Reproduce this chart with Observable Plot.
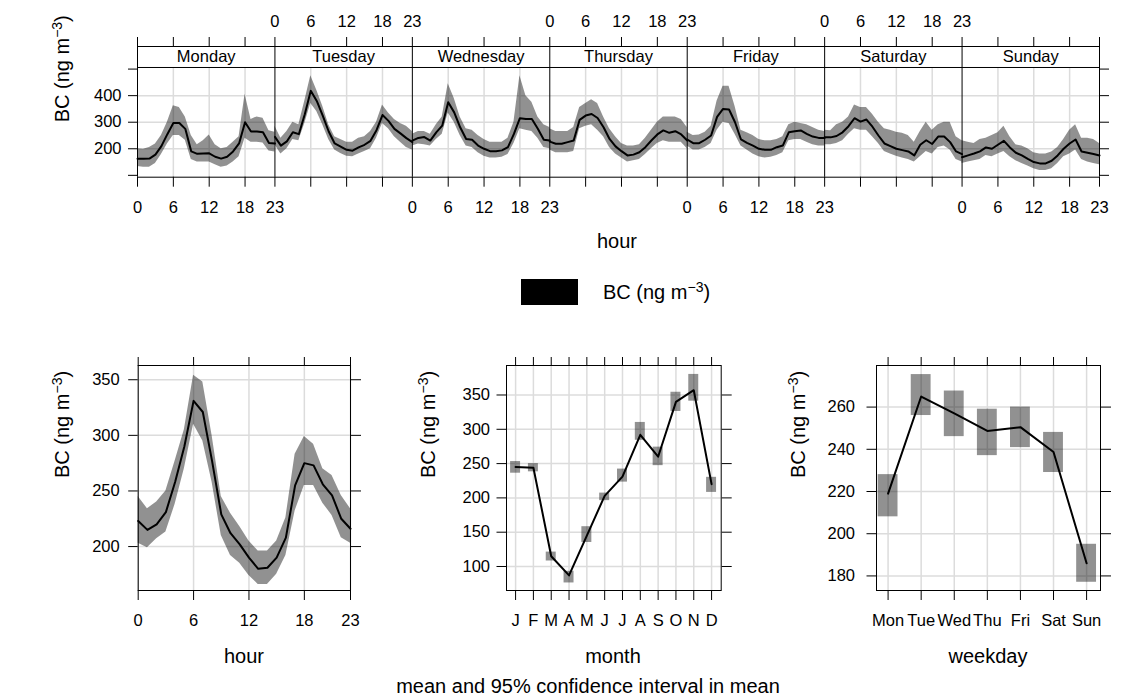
<!DOCTYPE html>
<html>
<head>
<meta charset="utf-8">
<script src="https://cdn.jsdelivr.net/npm/d3@7"></script>
<script src="https://cdn.jsdelivr.net/npm/@observablehq/plot@0.6"></script>
<style>
  body { margin: 0; background: #fff; font-family: "Liberation Sans", Arial, Helvetica, sans-serif; color: #000; }
  #chart { position: relative; width: 1134px; height: 698px; overflow: hidden; }
  .lbl { position: absolute; transform: translate(-50%, -50%); white-space: nowrap; font-size: 20px; }
  #legend { position: absolute; left: 521px; top: 279px; display: flex; align-items: center; font-size: 20px; }
  #legend .key { width: 57px; height: 26px; background: #000; margin-right: 25px; }
  #legend sup { font-size: 14px; vertical-align: 7px; line-height: 0; }
</style>
</head>
<body>
<div id="chart">
  <div class="lbl" style="left:617px; top:241px">hour</div>
  <div id="legend"><div class="key"></div><span>BC (ng m<sup>−3</sup>)</span></div>
  <div class="lbl" style="left:244px; top:656px">hour</div>
  <div class="lbl" style="left:613px; top:656px">month</div>
  <div class="lbl" style="left:988px; top:656px">weekday</div>
  <div class="lbl" style="left:588px; top:686px">mean and 95% confidence interval in mean</div>
</div>
<script>
// ---- categories and tick labels ----
const dayNames = ["Monday", "Tuesday", "Wednesday", "Thursday", "Friday", "Saturday", "Sunday"];
const hourTickValues = [0, 6, 12, 18, 23];
const monthLabels = ["J", "F", "M", "A", "M", "J", "J", "A", "S", "O", "N", "D"];
const weekdayLabels = ["Mon", "Tue", "Wed", "Thu", "Fri", "Sat", "Sun"];
const yTitle = "BC (ng m-3)";

// ---- hourly BC by day of week: mean, lower and upper 95% CI ----
const mondayMean  = [162,162,163,178,210,255,297,297,275,190,181,182,183,170,163,170,190,220,300,265,265,262,222,220];
const mondayLower = [133,130,130,145,178,218,250,250,232,160,150,150,150,140,130,135,150,170,240,225,225,222,192,188];
const mondayUpper = [200,198,205,218,250,300,362,355,320,250,215,230,252,215,200,205,225,245,405,310,320,315,268,262];

const tuesdayMean  = [245,212,228,262,255,330,418,380,325,265,220,208,196,193,205,215,230,270,327,305,275,258,240,225];
const tuesdayLower = [215,180,200,235,230,295,370,340,290,235,195,182,172,170,180,190,200,240,295,275,245,225,205,195];
const tuesdayUpper = [285,240,265,300,290,380,475,420,360,290,245,235,225,225,240,245,265,300,365,335,310,295,285,265];

const wednesdayMean  = [231,241,244,231,262,287,375,337,281,237,234,212,200,191,191,194,206,256,315,312,312,275,234,231];
const wednesdayLower = [210,218,215,210,235,255,335,300,250,210,205,185,172,165,165,168,178,220,275,270,265,240,205,200];
const wednesdayUpper = [255,265,265,255,290,320,445,390,320,275,270,250,235,225,225,225,240,300,475,400,375,320,290,280];

const thursdayMean  = [227,219,219,225,231,309,325,331,316,281,237,209,191,175,178,187,206,231,254,269,260,266,254,231];
const thursdayLower = [195,185,185,185,190,275,285,290,270,245,205,180,165,150,155,160,178,200,220,230,225,225,225,200];
const thursdayUpper = [275,265,265,265,280,355,370,385,370,320,275,245,220,210,210,215,240,270,300,320,320,320,310,280];

const fridayMean  = [235,221,221,234,250,320,350,348,300,235,222,212,200,196,196,206,212,262,266,269,256,246,241,241];
const fridayLower = [210,195,195,205,220,270,300,295,255,210,195,180,170,165,168,175,185,230,235,235,225,215,210,210];
const fridayUpper = [262,250,252,262,285,380,435,435,360,270,260,250,235,230,230,235,245,290,300,295,290,280,270,265];

const saturdayMean  = [243,243,248,262,285,315,302,310,283,250,220,210,200,195,190,175,215,232,218,246,246,225,190,180];
const saturdayLower = [215,215,220,230,255,275,270,270,245,220,190,180,172,165,160,150,170,190,180,205,210,195,160,150];
const saturdayUpper = [270,268,290,300,320,365,355,355,330,300,275,270,262,258,250,225,265,300,270,290,300,300,245,230];

const sundayMean  = [168,175,182,190,205,200,215,230,205,185,175,162,150,145,145,155,175,200,220,235,190,185,180,175];
const sundayLower = [145,150,155,160,175,170,180,190,170,155,145,135,125,118,118,125,145,170,180,195,160,150,145,140];
const sundayUpper = [230,225,220,235,240,250,260,285,245,215,210,200,185,180,180,188,205,235,270,290,240,240,235,220];

// ---- diurnal profile (all days) ----
const hourMean  = [223,215,220,231,258,290,331,321,277,229,212,202,190,180,181,190,208,255,275,273,256,246,225,216];
const hourLower = [203,199,207,213,238,270,310,295,258,210,192,185,174,166,166,175,192,232,255,255,239,228,208,203];
const hourUpper = [245,234,240,250,277,305,354,348,300,245,230,218,205,196,196,205,226,283,299,292,270,264,246,234];

// ---- monthly means ----
const monthMean  = [245,244,115,87,145,203,231,292,260,340,357,220];
const monthLower = [236,238,108,76,135,196,223,284,247,326,341,208];
const monthUpper = [253,250,121,93,158,207,242,310,274,354,380,230];

// ---- weekday means ----
const weekdayMean  = [219,265,257,248.7,250.5,238.7,186];
const weekdayLower = [208,256,246,237,240.8,229,177];
const weekdayUpper = [228,275.4,267.6,259,260,248,195];

// ---- shared styling ----
const FONT = "'Liberation Sans', Arial, Helvetica, sans-serif";
const TICK_FONT = 16.5;
const GRID = "#dcdcdc";
const BAND = {fill: "black", fillOpacity: 0.43};
const baseStyle = {fontFamily: FONT, fontSize: "16px", color: "black", background: "none", overflow: "visible"};
const chart = document.getElementById("chart");

function place(svg, left, top) {
  svg.style.position = "absolute";
  svg.style.left = left + "px";
  svg.style.top = top + "px";
  // render the unit exponent as a raised superscript
  svg.querySelectorAll("text").forEach(t => {
    if (t.textContent !== yTitle) return;
    const NS = "http://www.w3.org/2000/svg";
    t.textContent = "";
    const a = document.createElementNS(NS, "tspan"); a.textContent = "BC (ng m";
    const b = document.createElementNS(NS, "tspan"); b.textContent = "−3";
    b.setAttribute("dy", "-7"); b.setAttribute("font-size", "14px");
    const c = document.createElementNS(NS, "tspan"); c.textContent = ")";
    c.setAttribute("dy", "7");
    t.append(a, b, c);
  });
  chart.appendChild(svg);
}

// ---- top: hour by day-of-week panels ----
const SPAN = 23;
const dayMean  = [mondayMean, tuesdayMean, wednesdayMean, thursdayMean, fridayMean, saturdayMean, sundayMean];
const dayLower = [mondayLower, tuesdayLower, wednesdayLower, thursdayLower, fridayLower, saturdayLower, sundayLower];
const dayUpper = [mondayUpper, tuesdayUpper, wednesdayUpper, thursdayUpper, fridayUpper, saturdayUpper, sundayUpper];
const dayRows = dayNames.flatMap((day, d) =>
  dayMean[d].map((m, h) => ({day, pos: d * SPAN + h, mean: m, lo: dayLower[d][h], hi: dayUpper[d][h]})));

const tickPos = Array.from(new Set(dayNames.flatMap((_, d) => hourTickValues.map(h => d * SPAN + h))));
const bottomLabels = new Map(), topLabels = new Map();
dayNames.forEach((_, d) => hourTickValues.forEach(h => (d % 2 === 0 ? bottomLabels : topLabels).set(d * SPAN + h, String(h))));
const gridPos = dayNames.flatMap((_, d) => [6, 12, 18].map(h => d * SPAN + h));
const panelEdges = d3.range(dayNames.length + 1).map(d => d * SPAN);
const Y_LO = 93, Y_HI = 506, STRIP_HI = 585;

const topPlot = Plot.plot({
  width: 1134, height: 260,
  marginLeft: 137, marginRight: 35, marginTop: 46, marginBottom: 83.3,
  style: baseStyle,
  x: {domain: [0, SPAN * dayNames.length], label: null},
  y: {domain: [Y_LO, STRIP_HI], label: null},
  marks: [
    Plot.ruleY([200, 300, 400], {stroke: GRID, strokeWidth: 1.5}),
    Plot.ruleX(gridPos, {y1: Y_LO, y2: Y_HI, stroke: GRID, strokeWidth: 1.5}),
    Plot.areaY(dayRows, {x: "pos", y1: "lo", y2: "hi", z: "day", ...BAND}),
    Plot.lineY(dayRows, {x: "pos", y: "mean", z: "day", stroke: "black", strokeWidth: 2}),
    Plot.ruleY([Y_LO, Y_HI, STRIP_HI], {stroke: "black"}),
    Plot.ruleX(panelEdges, {y1: Y_LO, y2: STRIP_HI, stroke: "black"}),
    Plot.text(dayNames, {x: (d, i) => i * SPAN + SPAN / 2, y: (Y_HI + STRIP_HI) / 2, text: d => d, fontSize: 16.5}),
    Plot.axisX(tickPos, {anchor: "bottom", tickSize: 10, tickPadding: 14, fontSize: TICK_FONT, label: null,
      tickFormat: v => bottomLabels.get(v) ?? ""}),
    Plot.axisX(tickPos, {anchor: "top", tickSize: 10, tickPadding: 10, fontSize: TICK_FONT, label: null,
      tickFormat: v => topLabels.get(v) ?? ""}),
    Plot.axisY([100, 200, 300, 400, 500], {anchor: "left", tickSize: 9, tickPadding: 7, fontSize: TICK_FONT, label: null,
      tickFormat: v => (v >= 200 && v <= 400 ? String(v) : "")}),
    Plot.axisY([100, 200, 300, 400, 500], {anchor: "right", tickSize: 9, label: null, tickFormat: () => ""}),
    Plot.text([yTitle], {y: (Y_LO + Y_HI) / 2, frameAnchor: "left", dx: -75, rotate: -90, fontSize: 20, text: d => d})
  ]
});
place(topPlot, 0, 0);

// ---- bottom row panels ----
function panel({left, width, marginLeft, marginRight, titleX, yPad, xDomain, yDomain, xTicks, xFormat, yTicks, marks}) {
  const svg = Plot.plot({
    width, height: 300, marginTop: 35, marginBottom: 40, marginLeft, marginRight,
    style: baseStyle,
    x: {domain: xDomain, label: null},
    y: {domain: yDomain, label: null},
    marks: [
      Plot.ruleX(xTicks, {stroke: GRID, strokeWidth: 1.5}),
      Plot.ruleY(yTicks, {stroke: GRID, strokeWidth: 1.5}),
      ...marks,
      Plot.frame({stroke: "black"}),
      Plot.axisX(xTicks, {anchor: "bottom", tickSize: 10, tickPadding: 14, fontSize: TICK_FONT, label: null, tickFormat: xFormat}),
      Plot.axisX(xTicks, {anchor: "top", tickSize: 9, label: null, tickFormat: () => ""}),
      Plot.axisY(yTicks, {anchor: "left", tickSize: 9.5, tickPadding: yPad, fontSize: TICK_FONT, label: null, tickFormat: v => String(v)}),
      Plot.axisY(yTicks, {anchor: "right", tickSize: 10, label: null, tickFormat: () => ""}),
      Plot.text([yTitle], {frameAnchor: "left", dx: -(left + marginLeft - titleX), rotate: -90, fontSize: 20, text: d => d})
    ]
  });
  place(svg, left, 330);
}

// diurnal profile
const hourRows = hourMean.map((m, h) => ({h, mean: m, lo: hourLower[h], hi: hourUpper[h]}));
panel({
  left: 0, width: 370, marginLeft: 137.7, marginRight: 20, titleX: 62, yPad: 9,
  xDomain: [0, 23], yDomain: [160.5, 362.8],
  xTicks: hourTickValues, xFormat: v => String(v),
  yTicks: [200, 250, 300, 350],
  marks: [
    Plot.areaY(hourRows, {x: "h", y1: "lo", y2: "hi", ...BAND}),
    Plot.lineY(hourRows, {x: "h", y: "mean", stroke: "black", strokeWidth: 2})
  ]
});

// monthly
const monthRows = monthMean.map((m, i) => ({m: i + 1, mean: m, lo: monthLower[i], hi: monthUpper[i]}));
panel({
  left: 380, width: 360, marginLeft: 126, marginRight: 19.3, titleX: 428, yPad: 7,
  xDomain: [0.49, 12.54], yDomain: [65, 393],
  xTicks: monthRows.map(d => d.m), xFormat: v => monthLabels[v - 1],
  yTicks: [100, 150, 200, 250, 300, 350],
  marks: [
    Plot.rect(monthRows, {x1: d => d.m - 0.28, x2: d => d.m + 0.28, y1: "lo", y2: "hi", ...BAND}),
    Plot.line(monthRows, {x: "m", y: "mean", stroke: "black", strokeWidth: 2})
  ]
});

// weekday
const weekdayRows = weekdayMean.map((m, i) => ({w: i + 1, mean: m, lo: weekdayLower[i], hi: weekdayUpper[i]}));
panel({
  left: 760, width: 374, marginLeft: 116, marginRight: 34, titleX: 798, yPad: 12,
  xDomain: [0.65, 7.42], yDomain: [173.1, 279.7],
  xTicks: weekdayRows.map(d => d.w), xFormat: v => weekdayLabels[v - 1],
  yTicks: [180, 200, 220, 240, 260],
  marks: [
    Plot.rect(weekdayRows, {x1: d => d.w - 0.3, x2: d => d.w + 0.3, y1: "lo", y2: "hi", ...BAND}),
    Plot.line(weekdayRows, {x: "w", y: "mean", stroke: "black", strokeWidth: 2})
  ]
});
</script>
</body>
</html>
